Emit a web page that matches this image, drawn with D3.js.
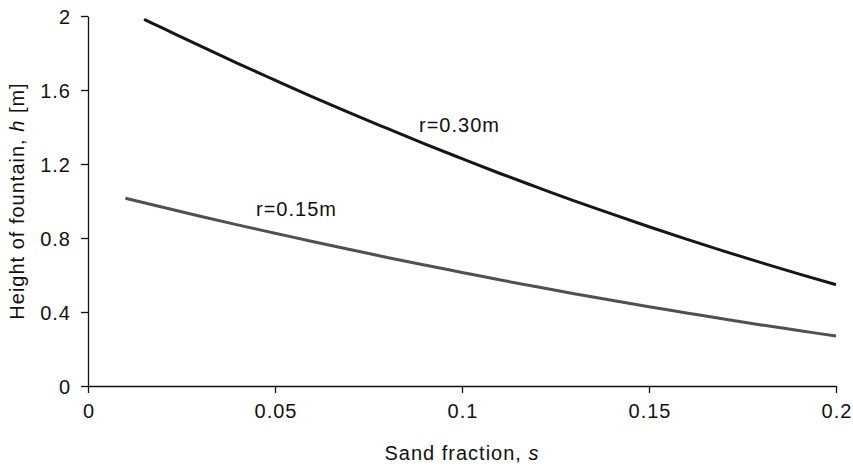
<!DOCTYPE html>
<html>
<head>
<meta charset="utf-8">
<script src="https://cdn.jsdelivr.net/npm/d3@7"></script>
<style>
  html, body { margin: 0; padding: 0; background: #fff; }
  svg text { font-family: "Liberation Sans", Arial, Helvetica, sans-serif; fill: #111; letter-spacing: 1px; }
</style>
</head>
<body>
<svg id="chart" width="853" height="468"></svg>
<script>
// Sand fraction s and fountain height h for two nozzle radii
const sLarge = [0.015, 0.02, 0.03, 0.04, 0.05, 0.06, 0.07, 0.08, 0.09, 0.10,
                0.11, 0.12, 0.13, 0.14, 0.15, 0.16, 0.17, 0.18, 0.19, 0.20];
const hLarge = [1.982, 1.934, 1.838, 1.744, 1.653, 1.563, 1.476, 1.392, 1.309, 1.229,
                1.150, 1.075, 1.001, 0.930, 0.861, 0.794, 0.729, 0.667, 0.606, 0.548];

const sSmall = [0.01, 0.02, 0.03, 0.04, 0.05, 0.06, 0.07, 0.08, 0.09, 0.10,
                0.11, 0.12, 0.13, 0.14, 0.15, 0.16, 0.17, 0.18, 0.19, 0.20];
const hSmall = [1.015, 0.966, 0.918, 0.871, 0.826, 0.781, 0.738, 0.695, 0.654, 0.614,
                0.574, 0.536, 0.499, 0.463, 0.428, 0.395, 0.362, 0.330, 0.300, 0.270];

const xTicks = [0, 0.05, 0.1, 0.15, 0.2];
const xTickLabels = ["0", "0.05", "0.1", "0.15", "0.2"];
const yTicks = [0, 0.4, 0.8, 1.2, 1.6, 2];
const yTickLabels = ["0", "0.4", "0.8", "1.2", "1.6", "2"];

const seriesLabels = ["r=0.30m", "r=0.15m"];

const svg = d3.select("#chart");
const margin = { left: 88, right: 17, top: 16, bottom: 82 };
const W = 853, H = 468;

const x = d3.scaleLinear().domain([0, 0.2]).range([margin.left, W - margin.right]);
const y = d3.scaleLinear().domain([0, 2]).range([H - margin.bottom, margin.top]);

const fontSize = 20;

// Axes
const xAxis = d3.axisBottom(x)
  .tickValues(xTicks)
  .tickFormat((d, i) => xTickLabels[i])
  .tickSizeInner(7).tickSizeOuter(0).tickPadding(11);
const yAxis = d3.axisLeft(y)
  .tickValues(yTicks)
  .tickFormat((d, i) => yTickLabels[i])
  .tickSizeInner(7).tickSizeOuter(0).tickPadding(10);

const gx = svg.append("g").attr("transform", `translate(0,${y(0)})`).call(xAxis);
const gy = svg.append("g").attr("transform", `translate(${x(0)},0)`).call(yAxis);
[gx, gy].forEach(g => {
  g.selectAll("path, line").attr("stroke", "#111").attr("stroke-width", 1.3);
  g.selectAll("text").attr("font-size", fontSize)
    .style("font-family", '"Liberation Sans", Arial, sans-serif').attr("fill", "#111");
});
gx.selectAll("text").attr("dx", "0.5px");
gy.selectAll("text").attr("dy", "0.36em");

// Curves
const line = d3.line().x(d => x(d[0])).y(d => y(d[1])).curve(d3.curveMonotoneX);
const large = sLarge.map((s, i) => [s, hLarge[i]]);
const small = sSmall.map((s, i) => [s, hSmall[i]]);

svg.append("path").datum(small)
  .attr("d", line).attr("fill", "none")
  .attr("stroke", "#505050").attr("stroke-width", 3);
svg.append("path").datum(large)
  .attr("d", line).attr("fill", "none")
  .attr("stroke", "#161616").attr("stroke-width", 3);

// Curve labels
svg.append("text").attr("x", 419).attr("y", 132)
  .attr("font-size", fontSize).text(seriesLabels[0]);
svg.append("text").attr("x", 256).attr("y", 216)
  .attr("font-size", fontSize).text(seriesLabels[1]);

// Axis titles
const xt = svg.append("text")
  .attr("x", (x(0) + x(0.2)) / 2).attr("y", 460)
  .attr("text-anchor", "middle").attr("font-size", fontSize);
xt.append("tspan").text("Sand fraction, ");
xt.append("tspan").attr("font-style", "italic").text("s");

const yt = svg.append("text")
  .attr("transform", `translate(24,${(y(0) + y(2)) / 2}) rotate(-90)`)
  .attr("text-anchor", "middle").attr("font-size", fontSize);
yt.append("tspan").text("Height of fountain, ");
yt.append("tspan").attr("font-style", "italic").text("h");
yt.append("tspan").text(" [m]");
</script>
</body>
</html>
